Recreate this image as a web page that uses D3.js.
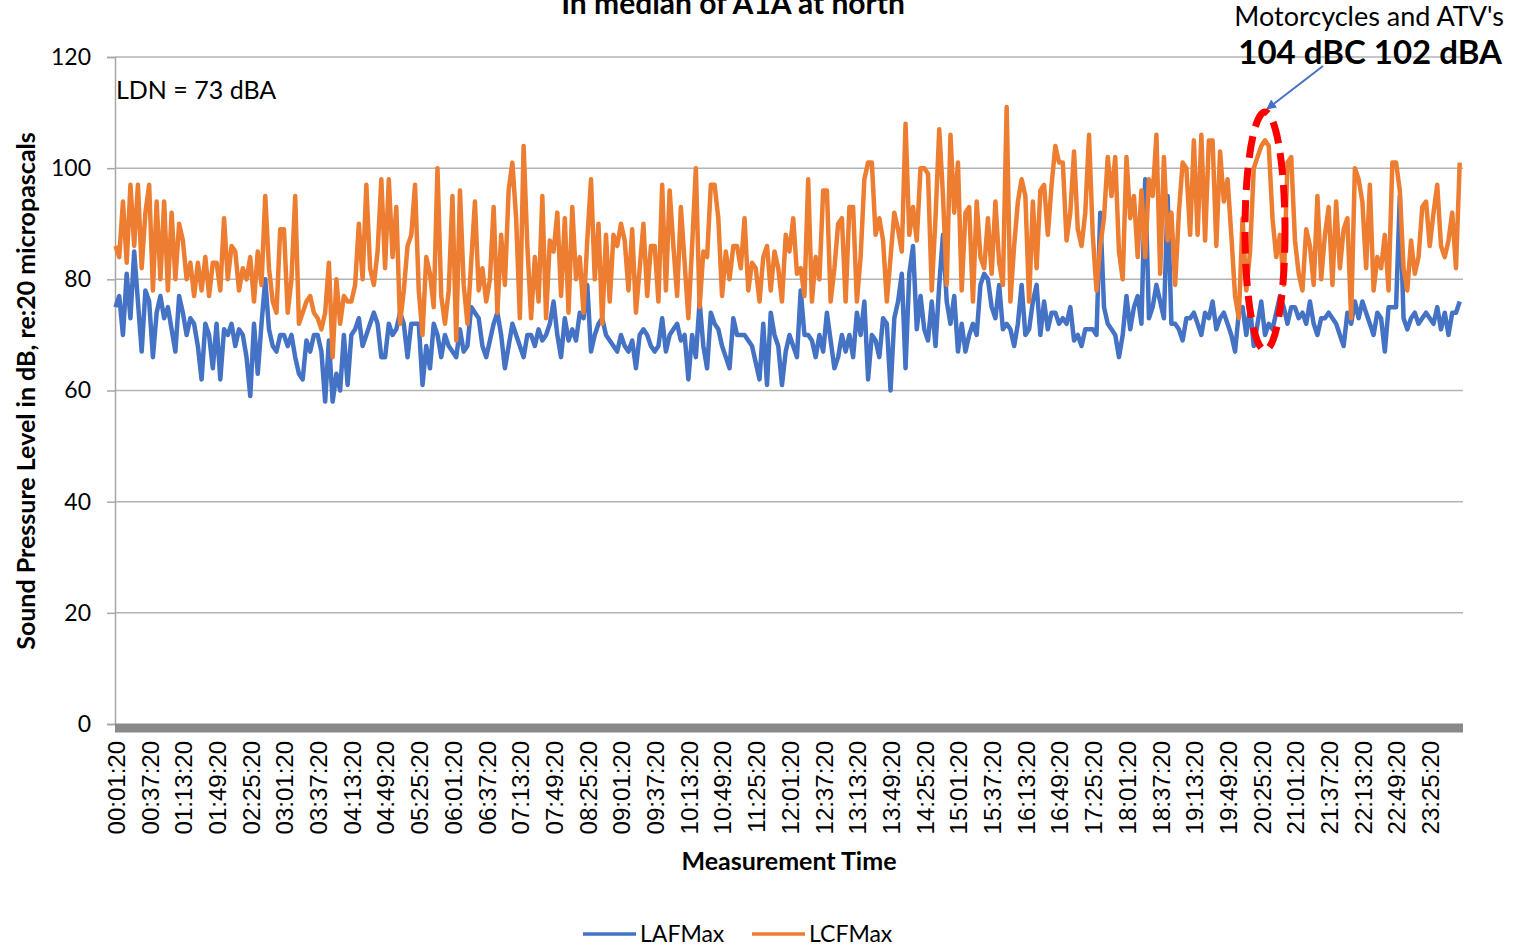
<!DOCTYPE html>
<html>
<head>
<meta charset="utf-8">
<script src="https://cdn.jsdelivr.net/npm/d3@7"></script>
<style>
  body { margin: 0; background: #fff; }
  svg { display: block; }
  .calib { font-family: Lato, "Open Sans", sans-serif; fill: #000; }
  .tick-x { font-family: "Liberation Sans", Arial, sans-serif; font-size: 24px; fill: #000; }
</style>
</head>
<body>
<div id="container"></div>
<script>
// x tick labels (every 36 min)
const tickLabels = ["00:01:20","00:37:20","01:13:20","01:49:20","02:25:20","03:01:20","03:37:20","04:13:20",
  "04:49:20","05:25:20","06:01:20","06:37:20","07:13:20","07:49:20","08:25:20","09:01:20","09:37:20",
  "10:13:20","10:49:20","11:25:20","12:01:20","12:37:20","13:13:20","13:49:20","14:25:20","15:01:20",
  "15:37:20","16:13:20","16:49:20","17:25:20","18:01:20","18:37:20","19:13:20","19:49:20","20:25:20",
  "21:01:20","21:37:20","22:13:20","22:49:20","23:25:20"];
const yTicks = [0, 20, 40, 60, 80, 100, 120];

// sample step in minutes
const stepMin = 4;

// LAFMax, dB (one row per 36-minute label interval)
const lafMax = [
  75,77,70,81,73,85,76,67,78,
  76,66,74,77,73,75,71,67,77,
  74,70,73,72,68,62,72,70,64,
  72,62,71,70,72,68,71,70,66,
  59,72,63,72,80,71,68,67,70,
  70,68,70,66,63,62,69,67,70,
  70,67,58,69,58,63,60,70,61,
  70,71,73,68,70,72,74,72,66,
  66,72,70,71,74,72,66,72,72,
  72,61,68,64,72,70,66,70,68,
  67,66,71,67,68,75,74,73,68,
  66,69,72,74,70,64,68,72,70,
  68,66,70,70,68,71,69,70,72,
  76,70,66,73,69,71,69,74,73,
  79,67,70,72,73,70,69,68,67,
  70,68,67,69,64,70,71,70,68,
  67,68,73,67,70,71,72,69,70,
  62,70,66,76,68,64,74,72,71,
  68,66,64,73,70,70,70,69,68,
  65,62,72,61,74,70,68,61,67,
  70,68,66,78,70,70,69,66,70,
  67,74,69,64,66,70,67,70,66,
  74,70,76,62,70,69,66,73,72,
  60,73,76,81,64,81,86,71,77,
  71,69,76,68,79,88,76,72,77,
  67,72,67,70,72,70,79,81,80,
  75,73,79,71,72,71,68,72,79,
  70,71,76,79,70,76,71,74,74,
  72,73,72,75,69,70,68,71,71,
  71,70,92,75,72,71,70,66,70,
  77,71,75,77,72,98,73,75,79,
  76,73,95,72,72,71,69,73,73,
  74,72,70,74,73,76,71,73,74,
  72,70,67,74,75,70,75,68,72,
  76,70,72,71,74,77,75,72,75,
  75,73,74,72,76,72,70,73,73,
  74,73,72,70,68,74,72,76,73,
  76,74,72,70,74,73,67,75,75,
  75,95,73,71,73,74,72,73,74,
  73,72,75,71,74,70,74,74,76
];

// LCFMax, dB
const lcfMax = [
  86,84,94,83,97,86,97,82,92,
  97,78,94,80,94,78,92,80,90,
  87,80,83,77,83,78,84,77,83,
  83,78,91,80,86,85,78,82,80,
  84,76,85,79,95,82,76,74,89,
  89,74,80,95,72,74,76,77,74,
  73,71,74,83,66,80,72,77,76,
  76,79,90,80,97,82,79,85,98,
  82,98,84,93,72,78,86,88,97,
  78,70,84,81,75,100,77,72,78,
  95,69,96,79,72,83,94,78,82,
  76,80,93,74,88,79,96,101,91,
  73,104,86,73,84,76,95,73,87,
  85,92,77,91,74,93,80,84,74,
  87,98,80,90,72,88,76,88,86,
  90,87,78,89,74,82,90,77,86,
  86,76,97,78,96,86,77,93,83,
  73,86,100,75,85,84,97,97,91,
  77,85,80,86,86,82,91,78,83,
  82,76,84,86,78,85,82,76,88,
  85,91,81,82,77,98,76,84,80,
  96,96,76,82,90,91,76,93,93,
  76,84,98,101,101,88,91,87,76,
  84,92,89,85,108,88,93,87,100,
  100,99,78,91,107,95,79,106,92,
  101,78,92,93,76,94,84,82,91,
  81,94,83,79,111,76,86,94,98,
  95,76,94,82,96,97,88,97,104,
  101,101,87,92,103,89,86,92,106,
  88,78,86,91,102,95,102,85,80,
  102,91,95,84,96,84,98,95,106,
  81,102,87,92,79,92,101,100,88,
  105,88,106,87,105,105,86,103,94,
  98,88,77,73,91,78,85,100,102,
  104,105,104,91,84,88,79,101,102,
  87,81,78,89,86,79,95,80,88,
  93,79,94,82,89,91,73,100,98,
  94,82,97,78,84,82,88,78,101,
  101,96,82,78,87,81,84,93,94,
  86,92,97,86,84,87,92,82,101
];

const width = 1527, height = 947;
const plotL = 115, plotR = 1463, plotT = 57, plotB = 724;

const svg = d3.select("#container").append("svg")
  .attr("width", width).attr("height", height);

const x = d3.scaleLinear().domain([0, tickLabels.length * 36]).range([plotL, plotR]);
const y = d3.scaleLinear().domain([0, 120]).range([plotB, plotT]);

// gridlines
svg.append("g").selectAll("line")
  .data(yTicks.filter(d => d > 0))
  .enter().append("line")
  .attr("x1", plotL).attr("x2", plotR)
  .attr("y1", d => y(d)).attr("y2", d => y(d))
  .attr("stroke", "#b3b3b3").attr("stroke-width", 1.5);

// y axis
const yAxis = d3.axisLeft(y).tickValues(yTicks).tickSize(8).tickPadding(16);
const gy = svg.append("g").attr("transform", "translate(" + plotL + ",0)").call(yAxis);
gy.select(".domain").attr("stroke", "#a6a6a6").attr("stroke-width", 1.5);
gy.selectAll(".tick line").attr("stroke", "#a6a6a6").attr("stroke-width", 1.5);
gy.selectAll(".tick text").attr("class", "calib").style("font-size", "23px").attr("fill", "#000");

// series
const line = d3.line()
  .x((d, i) => x(i * stepMin + 0.5))
  .y(d => y(d));

svg.append("path").datum(lafMax)
  .attr("d", line).attr("fill", "none")
  .attr("stroke", "#4472C4").attr("stroke-width", 4.5).attr("stroke-linejoin", "round");
svg.append("path").datum(lcfMax)
  .attr("d", line).attr("fill", "none")
  .attr("stroke", "#ED7D31").attr("stroke-width", 4.5).attr("stroke-linejoin", "round");

// thick x axis line
svg.append("line")
  .attr("x1", plotL).attr("x2", plotR)
  .attr("y1", plotB + 4).attr("y2", plotB + 4)
  .attr("stroke", "#898989").attr("stroke-width", 9);

// x tick labels
const xAxis = d3.axisBottom(x)
  .tickValues(d3.range(tickLabels.length).map(i => i * 36 + 1))
  .tickFormat((d, i) => tickLabels[i]).tickSize(0);
const gx = svg.append("g").attr("transform", "translate(0," + (plotB + 9) + ")").call(xAxis);
gx.select(".domain").remove();
gx.selectAll(".tick text")
  .attr("class", "tick-x")
  .attr("transform", "rotate(-90)")
  .attr("text-anchor", "end")
  .attr("x", -8).attr("y", 0).attr("dy", "0.35em");

// titles
svg.append("text").attr("class", "calib")
  .attr("x", 733).attr("y", 14).attr("text-anchor", "middle")
  .style("font-size", "30px").style("font-weight", "bold")
  .text("In median of A1A at north");

svg.append("text").attr("class", "calib")
  .attr("transform", "translate(35,391) rotate(-90)")
  .attr("text-anchor", "middle")
  .style("font-size", "25px").style("font-weight", "bold")
  .text("Sound Pressure Level in dB, re:20 micropascals");

svg.append("text").attr("class", "calib")
  .attr("x", 789).attr("y", 870).attr("text-anchor", "middle")
  .style("font-size", "25px").style("font-weight", "bold")
  .text("Measurement Time");

svg.append("text").attr("class", "calib")
  .attr("x", 116).attr("y", 99)
  .style("font-size", "25px")
  .text("LDN = 73 dBA");

// annotation
svg.append("text").attr("class", "calib")
  .attr("x", 1504).attr("y", 26).attr("text-anchor", "end")
  .style("font-size", "27px")
  .text("Motorcycles and ATV's");
svg.append("text").attr("class", "calib")
  .attr("x", 1502).attr("y", 64).attr("text-anchor", "end")
  .style("font-size", "33px").style("font-weight", "bold")
  .text("104 dBC 102 dBA");

const defs = svg.append("defs");
defs.append("marker").attr("id", "arrow")
  .attr("viewBox", "0 0 10 10").attr("refX", 9).attr("refY", 5)
  .attr("markerWidth", 5).attr("markerHeight", 5).attr("orient", "auto")
  .append("path").attr("d", "M0,0 L10,5 L0,10 z").attr("fill", "#4472C4");
svg.append("line")
  .attr("x1", 1323).attr("y1", 66).attr("x2", 1267).attr("y2", 109)
  .attr("stroke", "#4472C4").attr("stroke-width", 2)
  .attr("marker-end", "url(#arrow)");

svg.append("ellipse")
  .attr("cx", 1265).attr("cy", 231).attr("rx", 20).attr("ry", 119)
  .attr("fill", "none").attr("stroke", "#ff0000").attr("stroke-width", 7)
  .attr("stroke-dasharray", "22,10");

// legend
const legendItems = [["LAFMax", "#4472C4", 583], ["LCFMax", "#ED7D31", 752]];
const lg = svg.append("g");
legendItems.forEach(function (it) {
  lg.append("line").attr("x1", it[2]).attr("x2", it[2] + 53)
    .attr("y1", 934).attr("y2", 934)
    .attr("stroke", it[1]).attr("stroke-width", 3.5);
  lg.append("text").attr("class", "calib")
    .attr("x", it[2] + 57).attr("y", 942)
    .style("font-size", "23px").text(it[0]);
});
</script>
</body>
</html>
